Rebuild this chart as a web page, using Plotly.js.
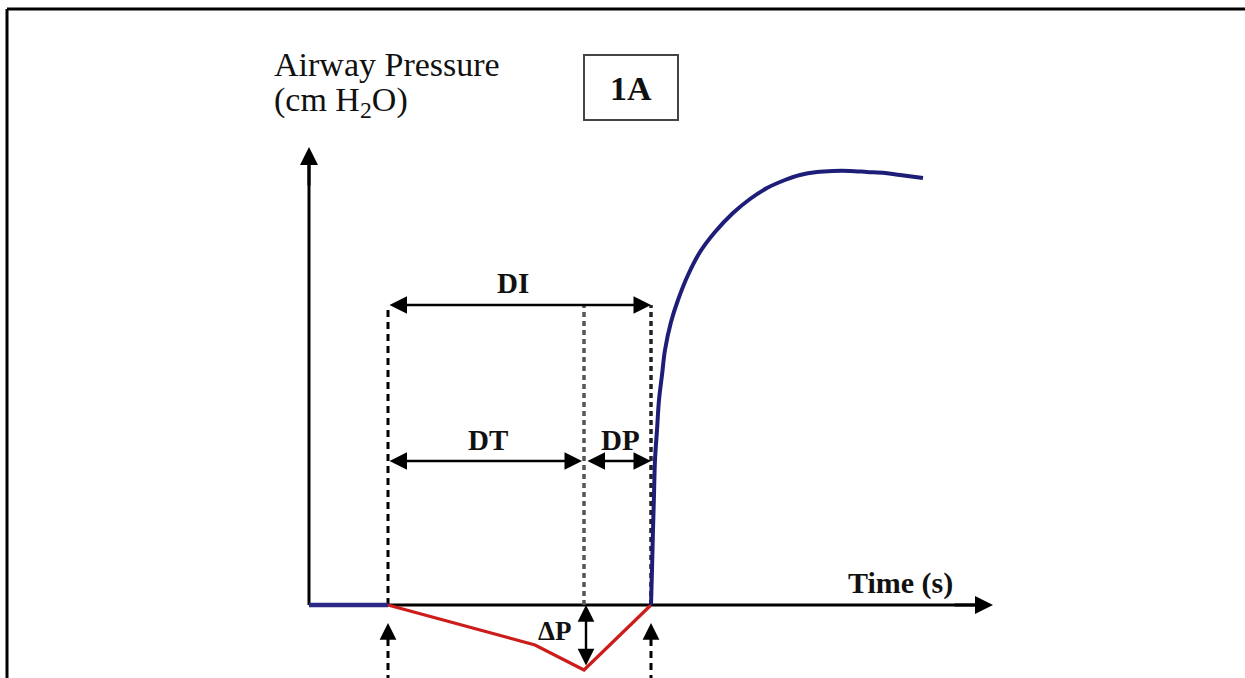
<!DOCTYPE html>
<html>
<head>
<meta charset="utf-8">
<script src="https://cdn.plot.ly/plotly-3.0.1.min.js"></script>
<style>html,body{margin:0;padding:0;background:#fff;}#chart{width:1245px;height:678px;}</style>
</head>
<body>
<div id="chart"></div>
<script>
// ---- data (time in arbitrary units, pressure in cm H2O, schematic) ----
const baseTime = [0, 0.79];
const basePressure = [0, 0];
const trigTime = [0.79, 2.26, 2.75, 3.42];
const trigPressure = [0, -2.0, -3.25, 0];
const riseTime = [3.42, 3.43, 3.44, 3.45, 3.46, 3.48, 3.50, 3.53, 3.56, 3.62, 3.69, 3.79, 3.91, 4.06, 4.24, 4.41, 4.58, 4.76, 4.91, 5.08, 5.24, 5.41, 5.58, 5.76, 5.91, 6.14];
const risePressure = [0, 1.75, 3.75, 5.5, 7.25, 8.75, 10.25, 11.5, 12.75, 14.15, 15.25, 16.5, 17.65, 18.65, 19.6, 20.3, 20.85, 21.25, 21.5, 21.65, 21.7, 21.7, 21.65, 21.6, 21.5, 21.35];
const tStart = 0.79, tMin = 2.75, tEnd = 3.42;
const pMin = -3.1;
const dimLevelDI = 15, dimLevelDT = 7.2;
const xAxisEnd = 6.84, yAxisEnd = 22.9;

const serif = 'Liberation Serif, Times New Roman, serif';
const black = '#000';

const traces = [
  // axes lines
  {x: [0, xAxisEnd - 0.1], y: [0, 0], mode: 'lines', line: {color: black, width: 3}},
  {x: [0, 0], y: [0, yAxisEnd - 0.5], mode: 'lines', line: {color: black, width: 3}},
  // dashed guides above axis
  {x: [tStart, tStart], y: [0, dimLevelDI], mode: 'lines', line: {color: '#000', width: 3, dash: '7px,5px'}},
  {x: [tMin, tMin], y: [0, dimLevelDI], mode: 'lines', line: {color: '#555', width: 3.5, dash: '5px,4px'}},
  {x: [tEnd, tEnd], y: [0, dimLevelDI], mode: 'lines', line: {color: '#222', width: 3.5, dash: '5px,4px'}},
  // dashed guides below axis
  {x: [tStart, tStart], y: [-1.7, -3.8], mode: 'lines', line: {color: '#000', width: 3, dash: '7px,5px'}},
  {x: [tEnd, tEnd], y: [-1.7, -3.8], mode: 'lines', line: {color: '#000', width: 3, dash: '7px,5px'}},
  // pressure curves
  {x: baseTime, y: basePressure, mode: 'lines', line: {color: '#2a2a86', width: 4.5}},
  {x: trigTime, y: trigPressure, mode: 'lines', line: {color: '#cc1c1c', width: 3.2}},
  {x: riseTime, y: risePressure, mode: 'lines', line: {color: '#1e1e78', width: 4, shape: 'spline', smoothing: 1}}
];

function arrow(x, y, ax, ay, opts) {
  return Object.assign({
    x: x, y: y, ax: ax, ay: ay, xref: 'x', yref: 'y', axref: 'x', ayref: 'y',
    text: '', showarrow: true, arrowhead: 2, arrowsize: 1.4, arrowwidth: 2.5,
    arrowcolor: black, standoff: 0, startstandoff: 0
  }, opts || {});
}
function label(x, y, text, size, bold) {
  return {x: x, y: y, xref: 'x', yref: 'y', text: bold ? '<b>' + text + '</b>' : text,
    showarrow: false, font: {family: serif, size: size, color: '#111'}};
}

const annotations = [
  // axis arrowheads
  arrow(xAxisEnd, 0, xAxisEnd - 0.4, 0, {arrowwidth: 3, arrowsize: 1.2}),
  arrow(0, yAxisEnd, 0, yAxisEnd - 2, {arrowwidth: 3, arrowsize: 1.2}),
  // dimension arrows
  arrow(tEnd, dimLevelDI, tStart, dimLevelDI, {arrowside: 'end+start'}),
  arrow(tMin - 0.02, dimLevelDT, tStart, dimLevelDT, {arrowside: 'end+start'}),
  arrow(tEnd, dimLevelDT, tMin + 0.02, dimLevelDT, {arrowside: 'end+start'}),
  arrow(tMin + 0.02, 0, tMin + 0.02, pMin, {arrowside: 'end+start', arrowwidth: 2.4}),
  // trigger arrows below the axis
  arrow(tStart, -0.9, tStart, -1.8, {arrowwidth: 2.4}),
  arrow(tEnd, -0.9, tEnd, -1.8, {arrowwidth: 2.4}),
  // labels
  label((tStart + tEnd) / 2 - 0.07, 16.1, 'DI', 29, true),
  label((tStart + tMin) / 2 + 0.02, 8.25, 'DT', 29, true),
  label((tMin + tEnd) / 2 + 0.03, 8.25, 'DP', 29, true),
  label(tMin - 0.3, -1.3, '<b>ΔP</b>', 27, false),
  label(5.91, 1.1, 'Time (s)', 30, true),
  {xref: 'paper', yref: 'paper', x: 272 / 1245, y: 1 - 65 / 678, xanchor: 'left', yanchor: 'middle',
    text: 'Airway Pressure', showarrow: false, font: {family: serif, size: 34, color: '#111'}},
  {xref: 'paper', yref: 'paper', x: 272 / 1245, y: 1 - 102 / 678, xanchor: 'left', yanchor: 'middle',
    text: '(cm H<sub>2</sub>O)', showarrow: false, font: {family: serif, size: 34, color: '#111'}},
  {xref: 'paper', yref: 'paper', x: 631 / 1245, y: 1 - 88 / 678, xanchor: 'center', yanchor: 'middle',
    text: '<b>1A</b>', showarrow: false, font: {family: serif, size: 34, color: '#111'}}
];

const shapes = [
  {type: 'line', xref: 'paper', yref: 'paper', x0: 7 / 1245, x1: 1, y0: 1 - 9 / 678, y1: 1 - 9 / 678, line: {color: black, width: 3}},
  {type: 'line', xref: 'paper', yref: 'paper', x0: 7 / 1245, x1: 7 / 1245, y0: 0, y1: 1 - 9 / 678, line: {color: black, width: 3}},
  {type: 'rect', xref: 'paper', yref: 'paper', x0: 584 / 1245, x1: 678 / 1245, y0: 1 - 120 / 678, y1: 1 - 55 / 678, line: {color: '#444', width: 2}}
];

const layout = {
  width: 1245, height: 678,
  margin: {l: 0, r: 0, t: 0, b: 0, pad: 0},
  paper_bgcolor: '#fff', plot_bgcolor: '#fff',
  showlegend: false,
  xaxis: {range: [-3.09, 9.36], visible: false, fixedrange: true},
  yaxis: {range: [-3.65, 30.25], visible: false, fixedrange: true},
  annotations: annotations,
  shapes: shapes
};

Plotly.newPlot('chart', traces, layout, {staticPlot: true, displayModeBar: false});
</script>
</body>
</html>
